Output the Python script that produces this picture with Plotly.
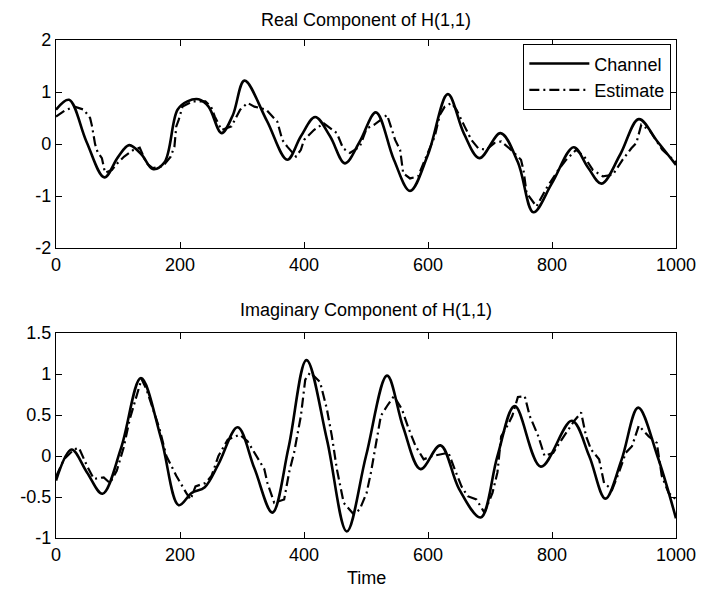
import plotly.graph_objects as go

# ---- Real component: channel (smooth) and tracked estimate ----
real_ch_t = [0, 21, 49, 78, 100, 118, 138, 156, 175, 196, 212, 230, 246, 267, 285, 304,
             340, 373, 395, 418, 442, 466, 490, 516, 545, 571, 600, 632, 658, 683, 717,
             745, 770, 800, 835, 858, 880, 910, 940, 970, 1000]
real_ch_v = [0.66, 0.85, 0.05, -0.64, -0.25, -0.02, -0.2, -0.48, -0.35, 0.66, 0.82, 0.86, 0.72, 0.21, 0.55, 1.22,
             0.45, -0.3, 0.15, 0.52, 0.15, -0.37, 0.05, 0.61, -0.3, -0.90, -0.2, 0.96, 0.2, -0.27, 0.21,
             -0.35, -1.31, -0.75, -0.06, -0.45, -0.76, -0.2, 0.48, 0.05, -0.40]

real_est_t = [0, 15, 30, 45, 55, 58, 63, 67, 74, 79, 90, 99, 110, 125, 135, 146, 156, 172, 185,
              191, 194, 198, 204, 220, 241, 250, 256, 267, 283, 297, 309, 320, 339, 357, 365,
              373, 387, 395, 400, 416, 432, 453, 463, 474, 490, 501, 513, 534, 540, 547, 555,
              560, 571, 584, 595, 603, 611, 619, 627, 638, 646, 659, 670, 681, 694, 707, 718,
              734, 750, 754, 759, 775, 791, 810, 823, 839, 852, 866, 882, 898, 914, 928, 936,
              944, 957, 978, 1000]
real_est_v = [0.53, 0.65, 0.72, 0.66, 0.5, 0.35, 0.0, -0.15, -0.27, -0.55, -0.5, -0.37, -0.24, -0.11, -0.07, -0.37, -0.46, -0.43, -0.24,
              -0.05, 0.34, 0.47, 0.72, 0.82, 0.82, 0.72, 0.53, 0.27, 0.34, 0.66, 0.79, 0.72, 0.66, 0.43, 0.08,
              -0.05, -0.24, -0.11, 0.08, 0.27, 0.4, 0.21, -0.08, -0.17, -0.05, 0.3, 0.37, 0.56, 0.34, 0.08, -0.11,
              -0.56, -0.66, -0.62, -0.3, -0.08, 0.15, 0.56, 0.72, 0.79, 0.66, 0.34, 0.08, -0.08, -0.11, 0.02, 0.05,
              -0.11, -0.3, -0.5, -0.94, -1.2, -0.85, -0.5, -0.3, -0.11, -0.24, -0.5, -0.62, -0.59, -0.3, -0.08, 0.02,
              0.37, 0.27, -0.11, -0.35]

# ---- Imaginary component ----
imag_ch_t = [0, 25, 50, 75, 105, 137, 170, 198, 219, 240, 262, 293, 320, 349, 375, 404,
             437, 469, 500, 534, 560, 588, 620, 650, 685, 712, 740, 782, 832, 860, 886,
             912, 939, 970, 1000]
imag_ch_v = [-0.3, 0.08, -0.2, -0.46, 0.1, 0.95, 0.2, -0.6, -0.45, -0.38, -0.1, 0.35, -0.15, -0.69, 0.1, 1.17,
             0.2, -0.92, 0.0, 0.98, 0.35, -0.16, 0.13, -0.4, -0.75, 0.0, 0.61, -0.13, 0.43, 0.0, -0.52,
             -0.05, 0.59, 0.0, -0.76]

imag_est_t = [0, 13, 29, 37, 50, 61, 77, 87, 98, 109, 119, 130, 138, 146, 156, 167, 178, 194,
              210, 217, 225, 241, 251, 262, 277, 296, 309, 323, 336, 341, 352, 368, 376, 384,
              395, 402, 410, 426, 437, 445, 453, 464, 480, 490, 501, 508, 516, 524, 534, 545,
              558, 569, 580, 593, 607, 622, 633, 643, 654, 664, 678, 691, 704, 712, 718, 728,
              736, 745, 756, 764, 778, 788, 802, 812, 821, 836, 847, 855, 863, 876, 884, 897,
              908, 919, 929, 940, 956, 969, 977, 988, 1000]
imag_est_v = [-0.25, -0.04, 0.08, 0.1, -0.12, -0.28, -0.26, -0.33, -0.18, 0.1, 0.45, 0.73, 0.94, 0.81, 0.57, 0.33, 0.0, -0.24,
              -0.45, -0.53, -0.37, -0.33, -0.24, 0.0, 0.2, 0.26, 0.18, 0.0, -0.16, -0.33, -0.57, -0.53, -0.2, 0.04,
              0.49, 0.93, 1.02, 0.9, 0.57, 0.24, -0.16, -0.57, -0.71, -0.65, -0.45, -0.2, 0.16, 0.49, 0.61, 0.73,
              0.57, 0.33, 0.12, -0.04, 0.0, 0.02, 0.04, -0.16, -0.37, -0.49, -0.53, -0.69, -0.45, -0.2, 0.24, 0.37,
              0.49, 0.72, 0.73, 0.49, 0.24, 0.0, 0.04, 0.16, 0.26, 0.43, 0.53, 0.24, 0.08, -0.04, -0.33, -0.41,
              -0.2, 0.04, 0.12, 0.37, 0.24, 0.16, -0.24, -0.45, -0.53]

x_ticks = [0, 200, 400, 600, 800, 1000]
real_ticks = [-2, -1, 0, 1, 2]
real_tick_text = ["-2", "-1", "0", "1", "2"]
imag_ticks = [-1, -0.5, 0, 0.5, 1, 1.5]
imag_tick_text = ["-1", "-0.5", "0", "0.5", "1", "1.5"]

FONT = "Liberation Sans, Arial, Helvetica, sans-serif"
TXT = 18
solid = dict(color="black", width=2.6)
dashdot = dict(color="black", width=2.2, dash="10px,4px,2px,4px")

fig = go.Figure()
fig.add_trace(go.Scatter(x=real_ch_t, y=real_ch_v, mode="lines", name="Channel",
                         line=dict(**solid, shape="spline", smoothing=1.0), xaxis="x", yaxis="y"))
fig.add_trace(go.Scatter(x=real_est_t, y=real_est_v, mode="lines", name="Estimate",
                         line=dashdot, xaxis="x", yaxis="y"))
fig.add_trace(go.Scatter(x=imag_ch_t, y=imag_ch_v, mode="lines", name="Channel", showlegend=False,
                         line=dict(**solid, shape="spline", smoothing=1.0), xaxis="x2", yaxis="y2"))
fig.add_trace(go.Scatter(x=imag_est_t, y=imag_est_v, mode="lines", name="Estimate", showlegend=False,
                         line=dashdot, xaxis="x2", yaxis="y2"))

axis_common = dict(showline=True, linecolor="black", linewidth=1.3, mirror="ticks",
                   ticks="inside", ticklen=6, tickcolor="black", showgrid=False, zeroline=False,
                   tickfont=dict(family=FONT, size=TXT, color="black"))

fig.update_layout(
    width=708, height=590,
    margin=dict(l=56, r=25, t=40, b=52),
    paper_bgcolor="white", plot_bgcolor="white",
    font=dict(family=FONT, size=TXT, color="black"),
    xaxis=dict(domain=[0, 1], range=[0, 1000], tickvals=x_ticks, anchor="y", **axis_common),
    yaxis=dict(domain=[0.582, 1], range=[-2, 2], tickvals=real_ticks, ticktext=real_tick_text,
               anchor="x", **axis_common),
    xaxis2=dict(domain=[0, 1], range=[0, 1000], tickvals=x_ticks, anchor="y2", **axis_common),
    yaxis2=dict(domain=[0, 0.4116], range=[-1, 1.5], tickvals=imag_ticks, ticktext=imag_tick_text,
                anchor="x2", **axis_common),
    legend=dict(x=0.992, y=0.992, xanchor="right", yanchor="top", bgcolor="white",
                bordercolor="black", borderwidth=1.3, font=dict(family=FONT, size=TXT),
                tracegroupgap=0, itemwidth=60),
    showlegend=True,
    annotations=[
        dict(text="Real Component of H(1,1)", x=0.5, y=1, xref="paper", yref="paper",
             xanchor="center", yanchor="middle", yshift=20, showarrow=False,
             font=dict(family=FONT, size=TXT)),
        dict(text="Imaginary Component of H(1,1)", x=0.5, y=0.4116, xref="paper", yref="paper",
             xanchor="center", yanchor="middle", yshift=23, showarrow=False,
             font=dict(family=FONT, size=TXT)),
        dict(text="Time", x=0.5, y=0, xref="paper", yref="paper",
             xanchor="center", yanchor="middle", yshift=-40, showarrow=False,
             font=dict(family=FONT, size=TXT)),
    ],
)

fig.write_html("out.html")
